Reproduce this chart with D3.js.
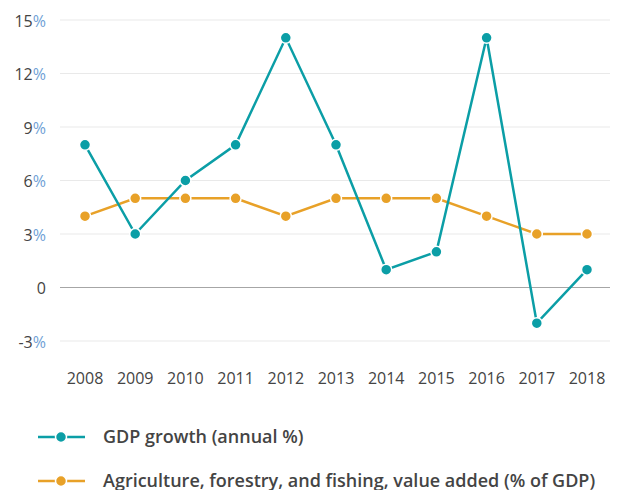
<!DOCTYPE html>
<html>
<head>
<meta charset="utf-8">
<script src="https://cdn.jsdelivr.net/npm/d3@7"></script>
<style>
  html, body { margin: 0; padding: 0; background: #fff; }
  svg { display: block; font-family: "Open Sans", sans-serif; }
</style>
</head>
<body>
<svg id="chart" width="617" height="490"></svg>
<script>
// Years on the x axis
const years = ["2008","2009","2010","2011","2012","2013","2014","2015","2016","2017","2018"];
// GDP growth (annual %)
const gdpGrowth = [8, 3, 6, 8, 14, 8, 1, 2, 14, -2, 1];
// Agriculture, forestry, and fishing, value added (% of GDP)
const agriShare = [4, 5, 5, 5, 4, 5, 5, 5, 4, 3, 3];
// Y axis ticks
const yTicks = [-3, 0, 3, 6, 9, 12, 15];

const seriesNames = ["GDP growth (annual %)", "Agriculture, forestry, and fishing, value added (% of GDP)"];
const seriesColors = ["#0b9ea6", "#e8a128"];

const svg = d3.select("#chart");
const plotLeft = 60, plotRight = 610;

const x = d3.scalePoint().domain(years).range([85, 587]);
const y = d3.scaleLinear().domain([-3, 15]).range([341, 20]);

// Horizontal gridlines
svg.append("g").selectAll("line")
  .data(yTicks)
  .join("line")
  .attr("x1", plotLeft).attr("x2", plotRight)
  .attr("y1", d => y(d)).attr("y2", d => y(d))
  .attr("stroke", d => d === 0 ? "#a6a6a6" : "#e9e9e9")
  .attr("stroke-width", 1);

// Y tick labels: number in dark grey, percent sign in blue
const yl = svg.append("g").selectAll("text")
  .data(yTicks)
  .join("text")
  .attr("x", 46)
  .attr("y", d => y(d) + 6.5)
  .attr("text-anchor", "end")
  .attr("font-size", 16)
  .attr("fill", "#444");
yl.append("tspan").text(d => d);
yl.append("tspan").attr("fill", "#6f9fd6").text(d => d === 0 ? "" : "%");

// X tick labels
svg.append("g").selectAll("text")
  .data(years)
  .join("text")
  .attr("x", d => x(d))
  .attr("y", 384)
  .attr("text-anchor", "middle")
  .attr("font-size", 16)
  .attr("fill", "#444")
  .text(d => d);

const line = d3.line().x((d, i) => x(years[i])).y(d => y(d));
const series = [agriShare, gdpGrowth];
const colors = [seriesColors[1], seriesColors[0]];

series.forEach((vals, k) => {
  const g = svg.append("g");
  g.append("path")
    .datum(vals)
    .attr("d", line)
    .attr("fill", "none")
    .attr("stroke", colors[k])
    .attr("stroke-width", 2.5);
  g.selectAll("circle")
    .data(vals)
    .join("circle")
    .attr("cx", (d, i) => x(years[i]))
    .attr("cy", d => y(d))
    .attr("r", 5.5)
    .attr("fill", colors[k])
    .attr("stroke", "#fff")
    .attr("stroke-width", 1.5);
});

// Legend
const legend = svg.append("g").selectAll("g")
  .data(seriesNames)
  .join("g")
  .attr("transform", (d, i) => `translate(0, ${437 + i * 44})`);
legend.append("line")
  .attr("x1", 38).attr("x2", 85)
  .attr("y1", 0).attr("y2", 0)
  .attr("stroke", (d, i) => seriesColors[i])
  .attr("stroke-width", 2.5);
legend.append("circle")
  .attr("cx", 61).attr("cy", 0).attr("r", 5.5)
  .attr("fill", (d, i) => seriesColors[i])
  .attr("stroke", "#fff").attr("stroke-width", 1.5);
legend.append("text")
  .attr("x", 103).attr("y", 6)
  .attr("font-size", 18)
  .attr("font-weight", 600)
  .attr("fill", "#444")
  .text(d => d);
</script>
</body>
</html>
